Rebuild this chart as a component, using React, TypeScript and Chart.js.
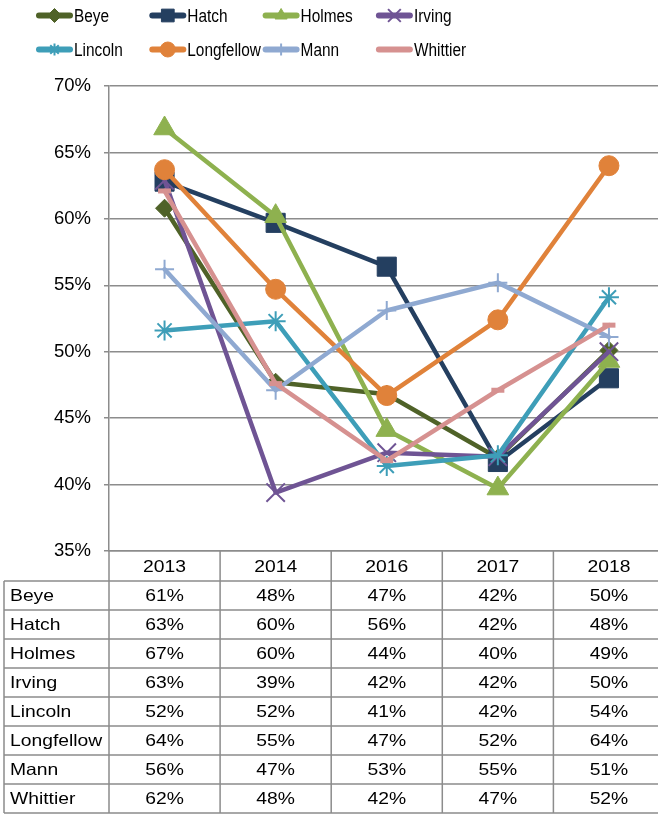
import React, { useEffect, useRef } from "react";
import { Chart, registerables } from "chart.js";
import { drawPoint } from "chart.js/helpers";

Chart.register(...registerables);

const years = ["2013", "2014", "2016", "2017", "2018"];
const schools = ["Beye", "Hatch", "Holmes", "Irving", "Lincoln", "Longfellow", "Mann", "Whittier"];

const beye = [60.8, 47.7, 46.8, 42.0, 50.1];
const hatch = [62.8, 59.7, 56.4, 41.7, 48.0];
const holmes = [66.8, 60.2, 44.1, 39.7, 49.3];
const irving = [62.9, 39.4, 42.4, 42.1, 50.0];
const lincoln = [51.6, 52.3, 41.4, 42.2, 54.1];
const longfellow = [63.7, 54.7, 46.7, 52.4, 64.0];
const mann = [56.2, 47.1, 53.1, 55.2, 51.1];
const whittier = [62.1, 47.6, 41.8, 47.1, 52.0];

const seriesValues = [beye, hatch, holmes, irving, lincoln, longfellow, mann, whittier];
const colors = ["#4F6228", "#243F60", "#8EB14F", "#6F5494", "#3E9EB8", "#E0823A", "#8FA9D1", "#D69190"];
const pointStyles = ["rectRot", "rect", "triangle", "crossRot", "star", "circle", "cross", "line"];
const pointRadii = [9, 13.5, 12.5, 13, 10, 10, 9.5, 6.5];
const pointBorders = [1, 1, 1, 2, 2, 1, 2, 5];
const legendRadii = [7, 9, 7, 9, 6, 7.5, 6, 0];

const yTicks = [35, 40, 45, 50, 55, 60, 65, 70];

const GRID = "#8C8C8C";
const FONT = "'Liberation Sans', Arial, sans-serif";

function txt(ctx: CanvasRenderingContext2D, s: string, x: number, y: number, align: CanvasTextAlign, sx: number) {
  ctx.save();
  ctx.translate(x, y);
  ctx.scale(sx, 1);
  ctx.textAlign = align;
  ctx.textBaseline = "alphabetic";
  ctx.fillText(s, 0, 0);
  ctx.restore();
}

const tablePlugin = {
  id: "tableLegend",
  afterDraw(chart: any) {
    const ctx: CanvasRenderingContext2D = chart.ctx;
    const area = chart.chartArea;
    const xs = chart.scales.x;
    const W = chart.width;
    const bandW = (area.right - area.left) / years.length;
    const headTop = area.bottom;
    const rowTop = 581;
    const rowH = 29;
    const tableBottom = rowTop + rowH * schools.length;

    ctx.save();
    ctx.strokeStyle = GRID;
    ctx.lineWidth = 1.5;
    ctx.beginPath();
    for (let k = 0; k <= schools.length; k++) {
      const y = rowTop + rowH * k;
      ctx.moveTo(4, y);
      ctx.lineTo(W, y);
    }
    ctx.moveTo(4, rowTop);
    ctx.lineTo(4, tableBottom);
    ctx.moveTo(area.left, headTop);
    ctx.lineTo(area.left, tableBottom);
    for (let i = 0; i < years.length; i++) {
      const bx = xs.getPixelForValue(i) + bandW / 2;
      ctx.moveTo(bx, headTop);
      ctx.lineTo(bx, tableBottom);
    }
    ctx.stroke();

    const tSize = 16.5;
    ctx.fillStyle = "#000";
    ctx.font = `${tSize}px ${FONT}`;
    const capOff = 0.358 * tSize;
    years.forEach((yr, i) => {
      txt(ctx, yr, xs.getPixelForValue(i), (headTop + rowTop) / 2 + capOff + 0.5, "center", 1.17);
    });
    schools.forEach((name, r) => {
      const cy = rowTop + rowH * r + rowH / 2 + capOff;
      txt(ctx, name, 10, cy, "left", 1.17);
      seriesValues[r].forEach((v, i) => {
        txt(ctx, Math.round(v) + "%", xs.getPixelForValue(i), cy, "center", 1.17);
      });
    });

    // legend
    const lSize = 17.5;
    ctx.font = `${lSize}px ${FONT}`;
    schools.forEach((name, idx) => {
      const col = idx % 4;
      const row = Math.floor(idx / 4);
      const x0 = 37 + 113.3 * col;
      const cy = row === 0 ? 15.5 : 49.5;
      ctx.strokeStyle = colors[idx];
      ctx.lineWidth = 6;
      ctx.lineCap = "round";
      ctx.beginPath();
      ctx.moveTo(x0 + 2, cy);
      ctx.lineTo(x0 + 33, cy);
      ctx.stroke();
      if (legendRadii[idx] > 0) {
        ctx.fillStyle = colors[idx];
        ctx.lineWidth = pointBorders[idx] > 1 ? 2 : 1;
        ctx.lineCap = "butt";
        drawPoint(ctx, { pointStyle: pointStyles[idx], radius: legendRadii[idx], rotation: 0, borderWidth: ctx.lineWidth } as any, x0 + 17.5, cy);
      }
      ctx.fillStyle = "#000";
      txt(ctx, name, x0 + 37, cy + 0.358 * lSize, "left", 0.88);
    });
    ctx.restore();
  },
};

export default function App() {
  const ref = useRef<HTMLCanvasElement | null>(null);
  useEffect(() => {
    if (!ref.current) return;
    const chart: any = new Chart(ref.current, {
      type: "line",
      data: {
        labels: years,
        datasets: schools.map((name, i) => ({
          label: name,
          data: seriesValues[i],
          borderColor: colors[i],
          backgroundColor: colors[i],
          pointBackgroundColor: colors[i],
          pointBorderColor: colors[i],
          borderWidth: 4.5,
          borderJoinStyle: "round" as const,
          borderCapStyle: "round" as const,
          pointStyle: pointStyles[i] as any,
          pointRadius: pointRadii[i],
          pointBorderWidth: pointBorders[i],
          tension: 0,
          fill: false,
          clip: false as any,
          order: schools.length - i,
        })),
      },
      options: {
        animation: false,
        responsive: false,
        events: [],
        layout: { autoPadding: false, padding: { top: 86, bottom: 263, left: 0, right: 1.5 } },
        plugins: { legend: { display: false }, tooltip: { enabled: false } },
        scales: {
          x: {
            type: "category",
            offset: true,
            grid: { display: false },
            ticks: { display: false },
            border: { display: true, color: GRID, width: 1.5 },
            afterFit: (s: any) => {
              s.height = 0;
            },
          },
          y: {
            min: yTicks[0],
            max: yTicks[yTicks.length - 1],
            afterBuildTicks: (s: any) => {
              s.ticks = yTicks.map((v) => ({ value: v }));
            },
            ticks: {
              callback: (v: any) => v + "%",
              font: { family: FONT, size: 18.5 },
              color: "#000",
              padding: 13,
            },
            grid: { color: GRID, lineWidth: 1.5, tickLength: 5 },
            border: { display: true, color: GRID, width: 1.5 },
            afterFit: (s: any) => {
              s.width = 109;
            },
          },
        },
      },
      plugins: [tablePlugin],
    });
    return () => chart.destroy();
  }, []);
  return (
    <div style={{ position: "fixed", left: 0, top: 0, width: 658, height: 814, overflow: "hidden", background: "#fff" }}>
      <canvas ref={ref} width={666} height={814} style={{ display: "block", width: 666, height: 814 }} />
    </div>
  );
}
